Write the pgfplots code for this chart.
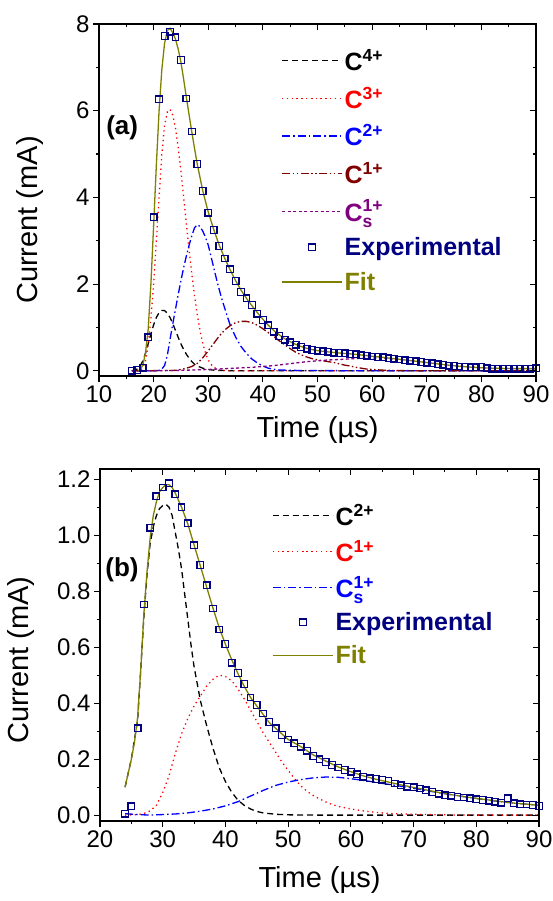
\documentclass[border=0pt]{standalone}
\usepackage{fontspec}
\setmainfont{Liberation Sans}
\usepackage{amsmath}
\usepackage{pgfplots}
\pgfplotsset{compat=1.18}
\definecolor{cRed}{RGB}{255,0,0}
\definecolor{cBlue}{RGB}{0,0,255}
\definecolor{cDRed}{RGB}{128,0,0}
\definecolor{cPurp}{RGB}{128,0,128}
\definecolor{cNavy}{RGB}{0,0,128}
\definecolor{cOlive}{RGB}{128,128,0}
\pgfplotsset{
  base/.style={
    scale only axis, width=437pt, height=352pt,
    axis line style={line width=1.4pt},
    every tick/.style={black, line width=1.1pt},
    major tick length=6pt, minor tick length=3.5pt,
    tick label style={font=\fontsize{24}{24}\selectfont},
    /pgf/number format/assume math mode=true,
    minor tick num=1,
  },
  outer/.style={base, tick align=outside, xtick pos=left, ytick pos=left,
    xlabel style={font=\fontsize{29}{29}\selectfont},
    ylabel style={font=\fontsize{29}{29}\selectfont}},
  inner/.style={base, tick align=inside, xtick pos=right, ytick pos=right, xticklabels={}, yticklabels={}},
  lg/.style={
    legend image code/.code={\draw[mark repeat=2,mark phase=2,##1] plot coordinates {(0pt,0pt) (30pt,0pt) (60pt,0pt)};},
    legend cell align=left,
  },
  comp/.style={line width=1.3pt, no marks},
  sq/.style={only marks, mark=square, mark size=3.3pt, draw=cNavy, mark options={solid, line width=1.3pt, draw=cNavy, fill=none}},
  sdash/.style={dash pattern=on 6pt off 4pt},
  sdot/.style={dash pattern=on 1.3pt off 3.5pt},
  sdashdot/.style={dash pattern=on 8pt off 3pt on 1.5pt off 3pt},
  sdashdotdot/.style={dash pattern=on 8pt off 2.5pt on 1.5pt off 2.5pt on 1.5pt off 2.5pt},
  sshort/.style={dash pattern=on 3pt off 2.5pt},
}
\begin{document}
\begin{tikzpicture}
\path[use as bounding box] (0pt,0pt) rectangle (553pt,901pt);
% ---------------- panel (a)
\begin{axis}[outer, at={(99pt,525pt)}, anchor=south west,
  xmin=10, xmax=90, ymin=-0.12, ymax=8,
  xtick={10,20,30,40,50,60,70,80,90}, ytick={0,2,4,6,8},
  xlabel={Time (µs)}, ylabel={Current (mA)},
  xlabel style={at={(axis description cs:0.5,-0.153)}, anchor=center},
  ylabel style={at={(axis description cs:-0.159,0.443)}, anchor=center},
  lg,
  legend style={font=\fontsize{25}{28}\selectfont\bfseries, draw=none, fill=none,
    at={(0.41,0.94)}, anchor=north west, row sep=11pt},
]
\addplot[comp, black, sdash] coordinates {(16,0) (17,0.04) (17.5,0.1) (18,0.22) (18.5,0.4) (19,0.62) (19.5,0.85) (20,1.06) (20.5,1.23) (21,1.34) (21.5,1.39) (22,1.39) (22.5,1.33) (23,1.23) (23.5,1.09) (24,0.93) (24.5,0.77) (25,0.62) (25.5,0.49) (26,0.38) (26.5,0.29) (27,0.21) (27.5,0.15) (28,0.11) (29,0.06) (30,0.03) (31,0.015) (32,0.007) (34,0.002) (36,0) (90,0)};
\addlegendentry{C$^{\text{4+}}$}
\addplot[comp, cRed, sdot] coordinates {(16,0) (17,0) (17.5,0.01) (18,0.06) (18.5,0.22) (19,0.6) (19.5,1.2) (20,2.0) (20.5,3.0) (21,4.0) (21.5,5.0) (22,5.65) (22.5,5.97) (23,6.03) (23.5,5.9) (24,5.6) (24.5,5.15) (25,4.6) (25.5,4.0) (26,3.38) (26.5,2.78) (27,2.22) (27.5,1.72) (28,1.28) (28.5,0.92) (29,0.63) (29.5,0.41) (30,0.25) (30.5,0.15) (31,0.08) (32,0.02) (33,0.005) (35,0) (90,0)};
\addlegendentry{\textcolor{cRed}{C$^{\text{3+}}$}}
\addplot[comp, cBlue, sdashdot] coordinates {(16,0) (20,0) (21,0.01) (21.5,0.04) (22,0.12) (22.5,0.35) (23,0.72) (23.5,1.08) (24,1.42) (24.5,1.76) (25,2.08) (25.5,2.38) (26,2.65) (26.5,2.9) (27,3.12) (27.5,3.3) (28,3.37) (28.5,3.33) (29,3.22) (29.5,3.08) (30,2.9) (30.5,2.64) (31,2.38) (31.5,2.12) (32,1.88) (32.5,1.65) (33,1.45) (33.5,1.25) (34,1.06) (35,0.78) (36,0.56) (37,0.40) (38,0.27) (39,0.18) (40,0.11) (41,0.06) (42,0.035) (43,0.02) (45,0.01) (50,0.005) (60,0) (90,0)};
\addlegendentry{\textcolor{cBlue}{C$^{\text{2+}}$}}
\addplot[comp, cDRed, sdashdotdot] coordinates {(16,0) (22,0.005) (24,0.01) (25,0.03) (26,0.06) (27,0.1) (28,0.17) (29,0.3) (30,0.46) (31,0.63) (32,0.8) (33,0.94) (34,1.04) (35,1.11) (36,1.14) (37,1.14) (38,1.11) (39,1.05) (40,0.97) (41,0.88) (42,0.79) (43,0.69) (44,0.6) (45,0.51) (46,0.43) (47,0.37) (48,0.32) (49,0.28) (50,0.25) (51,0.23) (52,0.21) (53,0.19) (54,0.16) (55,0.13) (56,0.11) (57,0.08) (58,0.06) (59,0.04) (60,0.03) (62,0.015) (65,0.005) (70,0) (90,0)};
\addlegendentry{\textcolor{cDRed}{C$^{\text{1+}}$}}
\addplot[comp, cPurp, sshort] coordinates {(16,0) (20,0) (25,0.01) (30,0.03) (35,0.06) (38,0.08) (40,0.10) (42,0.12) (44,0.15) (46,0.18) (48,0.21) (50,0.23) (52,0.25) (54,0.26) (56,0.275) (58,0.29) (60,0.295) (62,0.29) (64,0.27) (66,0.245) (68,0.22) (70,0.19) (72,0.16) (74,0.13) (76,0.105) (78,0.085) (80,0.07) (82,0.06) (84,0.055) (86,0.05) (88,0.05) (90,0.05)};
\addlegendentry{\textcolor{cPurp}{C$_{\text{s}}^{\text{1+}}$}}
\addplot[sq] coordinates {(16,0.0) (17,0.02) (18,0.07) (19,0.77) (20,3.54) (21,6.26) (22,7.72) (23,7.82) (24,7.69) (25,7.17) (26,6.28) (27,5.52) (28,4.77) (29,4.15) (30,3.65) (31,3.25) (32,2.88) (33,2.59) (34,2.34) (35,2.07) (36,1.82) (37,1.67) (38,1.52) (39,1.32) (40,1.17) (41,1.05) (42,0.90) (43,0.80) (44,0.72) (45,0.66) (46,0.60) (47,0.55) (48,0.51) (49,0.48) (50,0.46) (51,0.45) (52,0.44) (53,0.42) (54,0.41) (55,0.40) (56,0.39) (57,0.38) (58,0.36) (59,0.35) (60,0.33) (61,0.32) (62,0.31) (63,0.29) (64,0.28) (65,0.26) (66,0.24) (67,0.23) (68,0.22) (69,0.20) (70,0.19) (71,0.17) (72,0.15) (73,0.14) (74,0.12) (75,0.11) (76,0.10) (77,0.09) (78,0.08) (79,0.08) (80,0.09) (81,0.06) (82,0.05) (83,0.05) (84,0.05) (85,0.05) (86,0.05) (87,0.05) (88,0.05) (89,0.05) (90,0.06)};
\addlegendentry{\textcolor{cNavy}{Experimental}}
\addplot[comp, cOlive, solid] coordinates {(17.2,0) (17.5,0.03) (18,0.12) (18.5,0.40) (19,0.95) (19.5,2.0) (20,3.35) (20.5,4.75) (21,6.0) (21.5,6.95) (22,7.55) (22.5,7.85) (23,7.9) (23.5,7.8) (24,7.65) (24.5,7.42) (25,7.12) (25.5,6.72) (26,6.3) (26.5,5.9) (27,5.5) (27.5,5.12) (28,4.76) (29,4.15) (30,3.66) (31,3.26) (32,2.9) (33,2.6) (34,2.33) (35,2.08) (36,1.86) (37,1.67) (38,1.5) (39,1.34) (40,1.19) (41,1.05) (42,0.93) (43,0.83) (44,0.74) (45,0.67) (46,0.61) (47,0.56) (48,0.52) (49,0.49) (50,0.465) (52,0.435) (54,0.41) (56,0.39) (58,0.365) (60,0.335) (62,0.31) (64,0.28) (66,0.25) (68,0.22) (70,0.19) (72,0.16) (74,0.13) (76,0.105) (78,0.085) (80,0.07) (82,0.06) (84,0.055) (86,0.05) (88,0.05) (90,0.05)};
\addlegendentry{\textcolor{cOlive}{Fit}}
\node[font=\fontsize{26}{26}\selectfont\bfseries] at (rel axis cs:0.053,0.705) {(a)};
\end{axis}
\begin{axis}[inner, at={(99pt,525pt)}, anchor=south west,
  xmin=10, xmax=90, ymin=-0.12, ymax=8,
  xtick={10,20,30,40,50,60,70,80,90}, ytick={0,2,4,6,8}]
\end{axis}
% ---------------- panel (b)
\begin{axis}[outer, at={(100pt,80pt)}, anchor=south west, width=439pt,
  xmin=20, xmax=90, ymin=-0.021, ymax=1.236,
  xtick={20,30,40,50,60,70,80,90}, ytick={0,0.2,0.4,0.6,0.8,1.0,1.2},
  yticklabel style={/pgf/number format/.cd, fixed, fixed zerofill, precision=1},
  xlabel={Time (µs)}, ylabel={Current (mA)},
  xlabel style={at={(axis description cs:0.5,-0.168)}, anchor=center},
  ylabel style={at={(axis description cs:-0.18,0.457)}, anchor=center},
  lg,
  legend style={font=\fontsize{25}{28}\selectfont\bfseries, draw=none, fill=none,
    at={(0.385,0.912)}, anchor=north west, row sep=9.5pt},
]
\addplot[comp, black, sdash] coordinates {(24,0.10) (25,0.20) (26,0.34) (26.5,0.52) (27,0.71) (27.5,0.86) (28,0.97) (28.5,1.03) (29,1.07) (29.5,1.095) (30,1.105) (30.5,1.11) (31,1.10) (31.5,1.07) (32,1.01) (32.5,0.95) (33,0.88) (33.5,0.79) (34,0.70) (34.5,0.61) (35,0.53) (36,0.41) (37,0.32) (38,0.24) (39,0.17) (40,0.12) (41,0.082) (42,0.053) (43,0.035) (44,0.022) (45,0.013) (46,0.008) (48,0.003) (50,0.001) (55,0) (90,0)};
\addlegendentry{C$^{\text{2+}}$}
\addplot[comp, cRed, sdot] coordinates {(24,0) (26,0.002) (27,0.006) (28,0.015) (29,0.035) (30,0.08) (31,0.14) (32,0.22) (33,0.29) (34,0.345) (35,0.39) (36,0.425) (37,0.46) (38,0.485) (39,0.50) (40,0.495) (41,0.48) (42,0.45) (43,0.415) (44,0.375) (45,0.335) (46,0.295) (47,0.26) (48,0.225) (49,0.19) (50,0.16) (51,0.13) (52,0.105) (53,0.085) (54,0.07) (55,0.058) (56,0.047) (57,0.038) (58,0.031) (60,0.022) (62,0.015) (64,0.01) (66,0.006) (70,0.003) (75,0.001) (80,0) (90,0)};
\addlegendentry{\textcolor{cRed}{C$^{\text{1+}}$}}
\addplot[comp, cBlue, sdashdot] coordinates {(24,0.005) (26,0.002) (28,0) (30,0.002) (32,0.004) (34,0.008) (36,0.014) (38,0.022) (40,0.033) (42,0.048) (44,0.068) (46,0.088) (48,0.106) (50,0.118) (52,0.127) (54,0.133) (56,0.136) (58,0.135) (60,0.13) (62,0.124) (64,0.117) (66,0.11) (68,0.103) (70,0.096) (74,0.08) (78,0.066) (82,0.053) (86,0.043) (90,0.035)};
\addlegendentry{\textcolor{cBlue}{C$_{\text{s}}^{\text{1+}}$}}
\addplot[sq] coordinates {(24,0.005) (25,0.032) (26,0.31) (27,0.752) (28,1.026) (29,1.139) (30,1.17) (31,1.185) (32,1.146) (33,1.099) (34,1.042) (35,0.964) (36,0.893) (37,0.821) (38,0.738) (39,0.663) (40,0.611) (41,0.544) (42,0.508) (43,0.468) (44,0.420) (45,0.393) (46,0.363) (47,0.333) (48,0.310) (49,0.286) (50,0.270) (51,0.256) (52,0.244) (53,0.23) (54,0.211) (55,0.199) (56,0.19) (57,0.179) (58,0.170) (59,0.161) (60,0.155) (61,0.146) (62,0.137) (63,0.131) (64,0.129) (65,0.127) (66,0.122) (67,0.113) (68,0.107) (69,0.101) (70,0.099) (71,0.095) (72,0.089) (73,0.083) (74,0.077) (75,0.071) (76,0.069) (77,0.065) (78,0.063) (79,0.06) (80,0.057) (81,0.054) (82,0.051) (83,0.048) (84,0.044) (85,0.06) (86,0.042) (87,0.039) (88,0.038) (89,0.036) (90,0.033)};
\addlegendentry{\textcolor{cNavy}{Experimental}}
\addplot[comp, cOlive, solid] coordinates {(24,0.10) (24.5,0.15) (25,0.20) (25.5,0.26) (26,0.35) (26.5,0.52) (27,0.72) (27.5,0.87) (28,0.99) (28.5,1.07) (29,1.12) (29.5,1.155) (30,1.17) (30.5,1.18) (31,1.18) (31.5,1.17) (32,1.15) (33,1.10) (34,1.04) (35,0.965) (36,0.89) (37,0.815) (38,0.74) (39,0.67) (40,0.61) (41,0.555) (42,0.505) (43,0.46) (44,0.42) (45,0.39) (46,0.36) (47,0.33) (48,0.31) (49,0.29) (50,0.27) (52,0.245) (54,0.215) (56,0.193) (58,0.172) (60,0.155) (62,0.14) (64,0.128) (66,0.118) (68,0.108) (70,0.099) (72,0.09) (74,0.081) (76,0.073) (78,0.066) (80,0.06) (82,0.054) (84,0.048) (86,0.043) (88,0.039) (90,0.035)};
\addlegendentry{\textcolor{cOlive}{Fit}}
\node[font=\fontsize{26}{26}\selectfont\bfseries] at (rel axis cs:0.05,0.713) {(b)};
\end{axis}
\begin{axis}[inner, at={(100pt,80pt)}, anchor=south west, width=439pt,
  xmin=20, xmax=90, ymin=-0.021, ymax=1.236,
  xtick={20,30,40,50,60,70,80,90}, ytick={0,0.2,0.4,0.6,0.8,1.0,1.2}]
\end{axis}
\end{tikzpicture}
\end{document}
